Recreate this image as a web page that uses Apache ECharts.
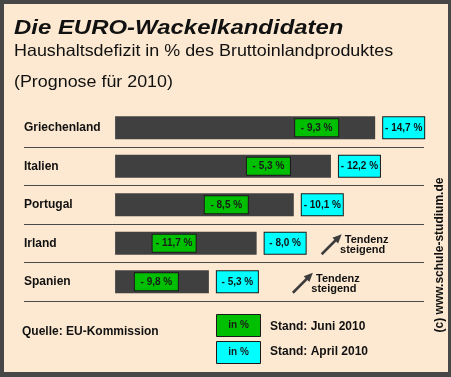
<!DOCTYPE html>
<html>
<head>
<meta charset="utf-8">
<script src="https://cdn.jsdelivr.net/npm/echarts@6/dist/echarts.min.js"></script>
<style>
  html, body { margin: 0; padding: 0; }
  #chart { width: 451px; height: 377px; }
</style>
</head>
<body>
<div id="chart"></div>
<script>
// Haushaltsdefizit in % des BIP (Prognose 2010)
const countries = ['Griechenland', 'Italien', 'Portugal', 'Irland', 'Spanien'];
const april2010 = [14.7, 12.2, 10.1, 8.0, 5.3];   // Stand: April 2010 (Balken)
const june2010 = [9.3, 5.3, 8.5, 11.7, 9.8];      // Stand: Juni 2010
const trendUp = ['Irland', 'Spanien'];

// Layout (Pixel)
const greenGap = [37, 41, 46, 61, 31];   // Abstand grüne Box -> Balkenende
const trendDx = [65, 84];                // Pfeil-Abstand vom Balkenende

const FONT = '"Liberation Sans", Arial, sans-serif';
const BG = '#fde9d1';

const fmt = v => '- ' + v.toFixed(1).replace('.', ',') + ' %';

const chart = echarts.init(document.getElementById('chart'), null, { renderer: 'canvas' });

const option = {
  backgroundColor: '#474747',
  animation: false,
  grid: { left: 24, right: 27, top: 108.5, bottom: 76 },
  xAxis: { type: 'value', min: -5.15, max: 17.46, show: false },
  yAxis: {
    type: 'category',
    data: countries,
    inverse: true,
    axisLine: { show: false },
    axisTick: { show: false },
    axisLabel: {
      align: 'left', margin: 0,
      fontFamily: FONT, fontWeight: 'bold', fontSize: 12, color: '#111'
    },
    splitLine: {
      show: true, showMinLine: false,
      lineStyle: { color: '#4a4a4a', width: 1 }
    }
  },
  series: [
    {
      type: 'bar',
      data: april2010,
      barWidth: 23,
      itemStyle: { color: '#404040' },
      label: {
        show: true, position: 'right', distance: 8,
        formatter: p => '{b|' + fmt(p.value) + '}',
        backgroundColor: '#00ffff', borderColor: '#1a1a1a', borderWidth: 1,
        padding: 0,
        rich: {
          b: { width: 41, height: 21, lineHeight: 21, align: 'center',
               fontFamily: FONT, fontWeight: 'bold', fontSize: 10, color: '#111' }
        }
      },
      z: 3
    },
    {
      type: 'bar',
      silent: true,
      barGap: '-100%',
      barWidth: 23,
      itemStyle: { color: 'rgba(0,0,0,0)' },
      data: april2010.map((v, i) => ({
        value: v,
        label: { offset: [-greenGap[i], 0], formatter: '{g|' + fmt(june2010[i]) + '}' }
      })),
      label: {
        show: true, position: 'insideRight', distance: 0,
        backgroundColor: '#00bf00', borderColor: '#1a1a1a', borderWidth: 1,
        padding: 0,
        rich: {
          g: { width: 43, height: 17, lineHeight: 17, align: 'center',
               fontFamily: FONT, fontWeight: 'bold', fontSize: 10, color: '#1a1a1a' }
        }
      },
      z: 4
    }
  ]
};

chart.setOption(option);

function txt(x, y, text, font, extra) {
  return Object.assign({
    type: 'text', x: x, y: y, z: 10,
    style: { text: text, font: font, fill: '#111', align: 'left', verticalAlign: 'middle' }
  }, extra || {});
}

const graphic = [
  { type: 'rect', z: -10, shape: { x: 4, y: 4, width: 444, height: 368 }, style: { fill: BG } },
  txt(14, 28, 'Die EURO-Wackelkandidaten', 'italic bold 21px ' + FONT, { scaleX: 1.14 }),
  txt(14, 51, 'Haushaltsdefizit in % des Bruttoinlandproduktes', '16.5px ' + FONT, { scaleX: 1.085 }),
  txt(14, 82, '(Prognose für 2010)', '16.5px ' + FONT, { scaleX: 1.083 }),
  txt(22, 332, 'Quelle: EU-Kommission', 'bold 12px ' + FONT),
  { type: 'rect', z: 10, shape: { x: 216.5, y: 314.5, width: 44, height: 22 },
    style: { fill: '#00bf00', stroke: '#1a1a1a', lineWidth: 1 } },
  { type: 'text', z: 11, x: 238.5, y: 325.5,
    style: { text: 'in %', font: 'bold 10px ' + FONT, fill: '#1a1a1a', align: 'center', verticalAlign: 'middle' } },
  { type: 'rect', z: 10, shape: { x: 216.5, y: 341.5, width: 44, height: 22 },
    style: { fill: '#00ffff', stroke: '#1a1a1a', lineWidth: 1 } },
  { type: 'text', z: 11, x: 238.5, y: 352.5,
    style: { text: 'in %', font: 'bold 10px ' + FONT, fill: '#1a1a1a', align: 'center', verticalAlign: 'middle' } },
  txt(270, 326.5, 'Stand: Juni 2010', 'bold 12px ' + FONT),
  txt(270, 352, 'Stand: April 2010', 'bold 12px ' + FONT),
  { type: 'text', z: 10, x: 440, y: 255, rotation: Math.PI / 2,
    style: { text: '(c) www.schule-studium.de', font: 'bold 12px ' + FONT, fill: '#111',
             align: 'center', verticalAlign: 'middle' } }
];

// Tendenz-Pfeile, an den Balkenenden ausgerichtet
trendUp.forEach((name, k) => {
  const i = countries.indexOf(name);
  const end = chart.convertToPixel({ gridIndex: 0 }, [april2010[i], i]);
  const sx = end[0] + trendDx[k], sy = end[1] + 11;
  const tx = sx + 20, ty = sy - 20;
  const len = Math.hypot(tx - sx, ty - sy);
  const ux = (tx - sx) / len, uy = (ty - sy) / len;
  const nx = -uy, ny = ux;
  const hl = 9, hw = 4;
  graphic.push({
    type: 'line', z: 10,
    shape: { x1: sx, y1: sy, x2: tx - ux * 6, y2: ty - uy * 6 },
    style: { stroke: '#3c3c3c', lineWidth: 2.5 }
  });
  graphic.push({
    type: 'polygon', z: 10,
    shape: { points: [[tx, ty], [tx - ux * hl + nx * hw, ty - uy * hl + ny * hw], [tx - ux * hl - nx * hw, ty - uy * hl - ny * hw]] },
    style: { fill: '#3c3c3c' }
  });
  graphic.push({ type: 'text', z: 10, x: tx + 25, y: ty + 6,
    style: { text: 'Tendenz', font: 'bold 11px ' + FONT, fill: '#111', align: 'center', verticalAlign: 'middle' } });
  graphic.push({ type: 'text', z: 10, x: tx + 21, y: ty + 16,
    style: { text: 'steigend', font: 'bold 11px ' + FONT, fill: '#111', align: 'center', verticalAlign: 'middle' } });
});

chart.setOption({ graphic: graphic });
</script>
</body>
</html>
